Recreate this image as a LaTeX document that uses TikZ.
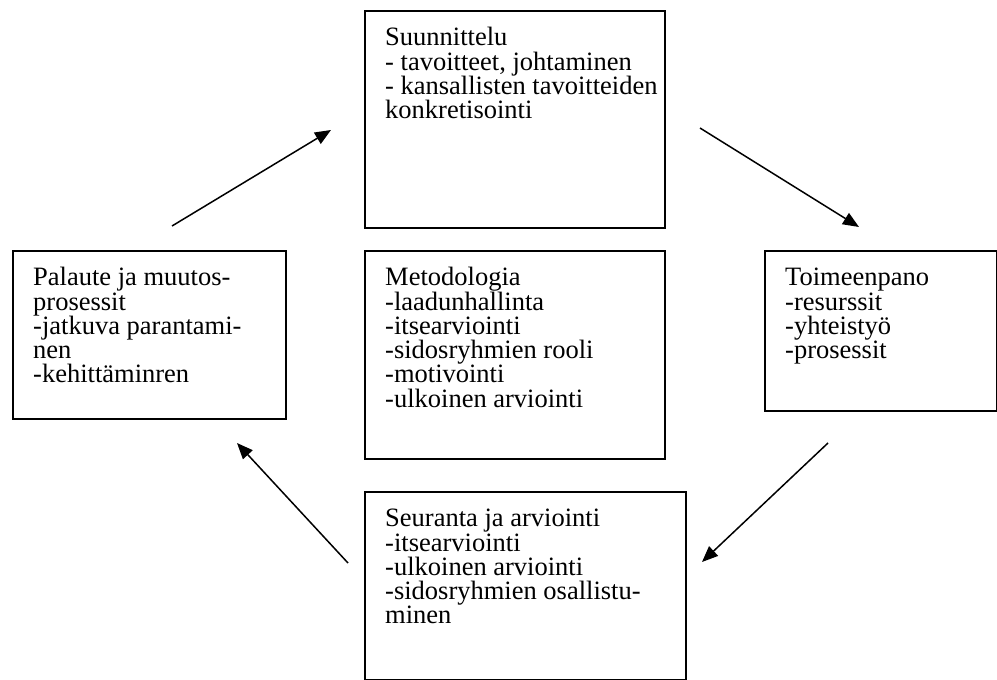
\documentclass[tikz,border=0pt]{standalone}
\usepackage{fontspec}
\setmainfont{Liberation Serif}
\usetikzlibrary{arrows.meta}
\begin{document}
\begin{tikzpicture}[x=1pt,y=-1pt,
  box/.style={draw, line width=1.6pt, inner sep=0pt, anchor=north west},
  txt/.style={inner sep=0pt, anchor=north west, align=left, font=\fontsize{26.5pt}{24.3pt}\selectfont},
  arr/.style={line width=1.5pt, -{Triangle[length=16pt,width=13pt]}}]
\useasboundingbox (0,0) rectangle (997,680);
\clip (0,0) rectangle (997,680);
% boxes
\node[box, minimum width=300pt, minimum height=217pt] (plan) at (364,10) {};
\node[box, minimum width=273pt, minimum height=168pt] (feed) at (12,250) {};
\node[box, minimum width=300pt, minimum height=208pt] (meth) at (364,250) {};
\node[box, minimum width=232pt, minimum height=160pt] (impl) at (764,250) {};
\node[box, minimum width=321pt, minimum height=188pt] (moni) at (364,491) {};
% texts
\node[txt] (plan-t) at ([xshift=21pt]plan.north west) {\rule{0pt}{35.5pt}Suunnittelu\\- tavoitteet, johtaminen\\- kansallisten tavoitteiden\\konkretisointi};
\node[txt] (feed-t) at ([xshift=21pt]feed.north west) {\rule{0pt}{35.5pt}Palaute ja muutos-\\prosessit\\-jatkuva parantami-\\nen\\-kehittäminren};
\node[txt] (meth-t) at ([xshift=21pt]meth.north west) {\rule{0pt}{35.5pt}Metodologia\\-laadunhallinta\\-itsearviointi\\-sidosryhmien rooli\\-motivointi\\-ulkoinen arviointi};
\node[txt] (impl-t) at ([xshift=21pt]impl.north west) {\rule{0pt}{35.5pt}Toimeenpano\\-resurssit\\-yhteistyö\\-prosessit};
\node[txt] (moni-t) at ([xshift=21pt]moni.north west) {\rule{0pt}{35.5pt}Seuranta ja arviointi\\-itsearviointi\\-ulkoinen arviointi\\-sidosryhmien osallistu-\\minen};
% arrows
\coordinate (a1s) at (172,226); \coordinate (a1e) at (331,130);
\coordinate (a2s) at (700,128); \coordinate (a2e) at (859,227);
\coordinate (a3s) at (828,443); \coordinate (a3e) at (702,562);
\coordinate (a4s) at (348,563); \coordinate (a4e) at (237,443);
\draw[arr] (a1s) -- (a1e);
\draw[arr] (a2s) -- (a2e);
\draw[arr] (a3s) -- (a3e);
\draw[arr] (a4s) -- (a4e);
\end{tikzpicture}
\end{document}
